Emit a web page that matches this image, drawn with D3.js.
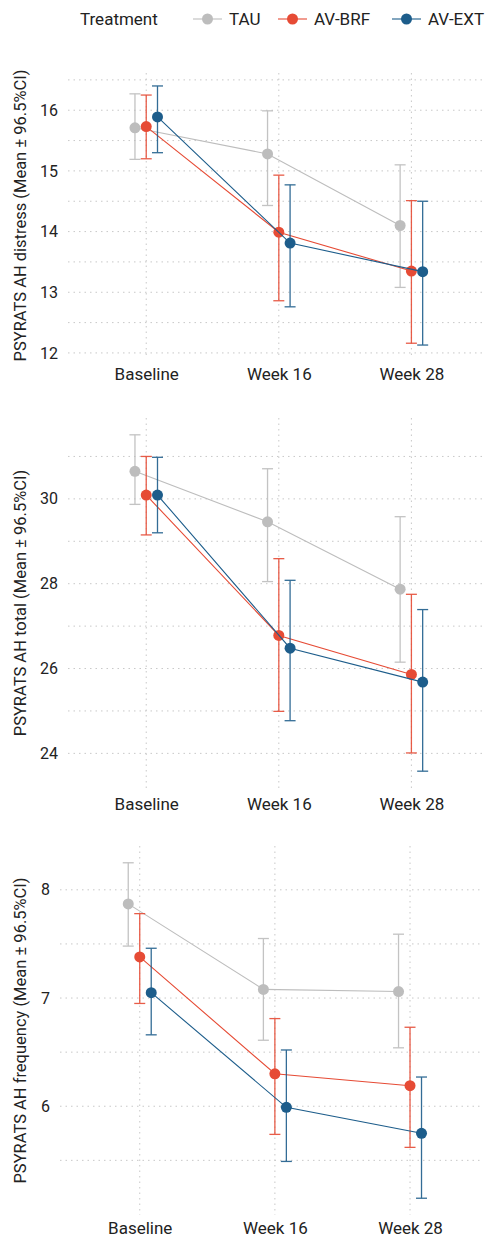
<!DOCTYPE html>
<html>
<head>
<meta charset="utf-8">
<script src="https://cdn.jsdelivr.net/npm/d3@7"></script>
<style>
  body { margin: 0; background: #fff; }
  svg { display: block; font-family: Roboto, "Noto Sans", sans-serif; }
</style>
</head>
<body>
<svg width="487" height="1239"></svg>
<script>
// Categories and groups.
var timepoints = ["Baseline", "Week 16", "Week 28"];
var groups = ["TAU", "AV-BRF", "AV-EXT"];
var colors = ["#bdbdbd", "#e64b35", "#1d5d8b"];

// Rows: TAU, AV-BRF, AV-EXT. Columns: Baseline, Week 16, Week 28.
var distressMean = [[15.71, 15.28, 14.10], [15.73, 13.99, 13.35], [15.89, 13.81, 13.34]];
var distressLow  = [[15.19, 14.43, 13.08], [15.20, 12.86, 12.16], [15.30, 12.76, 12.13]];
var distressHigh = [[16.27, 15.99, 15.10], [16.25, 14.93, 14.51], [16.40, 14.77, 14.50]];

var totalMean = [[30.65, 29.46, 27.87], [30.09, 26.78, 25.86], [30.09, 26.48, 25.68]];
var totalLow  = [[29.87, 28.05, 26.15], [29.15, 24.99, 24.01], [29.20, 24.77, 23.58]];
var totalHigh = [[31.51, 30.71, 29.58], [31.00, 28.59, 27.75], [30.98, 28.08, 27.39]];

var freqMean = [[7.87, 7.08, 7.06], [7.38, 6.30, 6.19], [7.05, 5.99, 5.75]];
var freqLow  = [[7.48, 6.61, 6.54], [6.95, 5.74, 5.62], [6.66, 5.49, 5.15]];
var freqHigh = [[8.25, 7.55, 7.59], [7.78, 6.81, 6.73], [7.46, 6.52, 6.27]];

// Tick labels and gridlines per panel.
var distressTicks = [12, 13, 14, 15, 16];
var distressMinor = [12.5, 13.5, 14.5, 15.5, 16.5];
var totalTicks = [24, 26, 28, 30];
var totalMinor = [25, 27, 29, 31];
var freqTicks = [6, 7, 8];
var freqMinor = [5.5, 6.5, 7.5];

var panels = [
  { title: "PSYRATS AH distress (Mean \u00b1 96.5%CI)", mean: distressMean, low: distressLow, high: distressHigh,
    ticks: distressTicks, minor: distressMinor, top: 73, bottom: 358, left: 68, labelGap: 10 },
  { title: "PSYRATS AH total (Mean \u00b1 96.5%CI)", mean: totalMean, low: totalLow, high: totalHigh,
    ticks: totalTicks, minor: totalMinor, top: 418, bottom: 788, left: 68, labelGap: 10 },
  { title: "PSYRATS AH frequency (Mean \u00b1 96.5%CI)", mean: freqMean, low: freqLow, high: freqHigh,
    ticks: freqTicks, minor: freqMinor, top: 846, bottom: 1215, left: 60, labelGap: 7 }
];

var svg = d3.select("svg");
var right = 483;
var dodge = [-0.085, 0, 0.085];
var gridColor = "#c8c8c8";

panels.forEach(function(p) {
  var g = svg.append("g");

  // y domain from the data with a 5% expansion, as ggplot does.
  var lo = d3.min(p.low, function(r) { return d3.min(r); });
  var hi = d3.max(p.high, function(r) { return d3.max(r); });
  var pad = (hi - lo) * 0.05;
  var y = d3.scaleLinear().domain([lo - pad, hi + pad]).range([p.bottom, p.top]);
  var x = d3.scaleLinear().domain([-0.59, 2.54]).range([p.left, right]);

  // Horizontal gridlines.
  g.selectAll("line.hgrid")
    .data(p.ticks.concat(p.minor))
    .enter()
    .append("line")
    .attr("x1", p.left).attr("x2", right)
    .attr("y1", function(d) { return y(d); })
    .attr("y2", function(d) { return y(d); })
    .attr("stroke", gridColor)
    .attr("stroke-width", 1)
    .attr("stroke-dasharray", "1.5,4");

  // Vertical gridlines.
  g.selectAll("line.vgrid")
    .data(timepoints)
    .enter()
    .append("line")
    .attr("x1", function(d, i) { return x(i); })
    .attr("x2", function(d, i) { return x(i); })
    .attr("y1", p.top).attr("y2", p.bottom)
    .attr("stroke", gridColor)
    .attr("stroke-width", 1)
    .attr("stroke-dasharray", "1.5,4");

  // Y axis tick labels.
  var yAxis = d3.axisLeft(y).tickValues(p.ticks).tickSize(0).tickPadding(0).tickFormat(d3.format("d"));
  var ya = g.append("g").attr("transform", "translate(" + (p.left - 10) + ",0)").call(yAxis);
  ya.select(".domain").remove();
  ya.selectAll("text").attr("font-size", 16).attr("fill", "#222").attr("font-family", "Roboto");

  // X axis labels.
  var xAxis = d3.axisBottom(x).tickValues([0, 1, 2]).tickSize(0).tickPadding(0)
    .tickFormat(function(d) { return timepoints[d]; });
  var xa = g.append("g").attr("transform", "translate(0," + (p.bottom + p.labelGap) + ")").call(xAxis);
  xa.select(".domain").remove();
  xa.selectAll("text").attr("font-size", 17).attr("fill", "#222").attr("font-family", "Roboto");

  // Y axis title.
  g.append("text")
    .attr("transform", "translate(26," + ((p.top + p.bottom) / 2) + ") rotate(-90)")
    .attr("text-anchor", "middle")
    .attr("font-size", 16.5)
    .attr("fill", "#222")
    .text(p.title);

  // Lines, error bars, points for each group.
  groups.forEach(function(name, gi) {
    var px = function(i) { return x(i + dodge[gi]); };
    var line = d3.line()
      .x(function(d, i) { return px(i); })
      .y(function(d) { return y(d); });

    g.append("path")
      .datum(p.mean[gi])
      .attr("d", line)
      .attr("fill", "none")
      .attr("stroke", colors[gi])
      .attr("stroke-width", 1.1);

    var eb = g.append("g").attr("stroke", colors[gi]).attr("stroke-width", 1.3).attr("opacity", 0.9);
    p.mean[gi].forEach(function(m, i) {
      var cx = px(i);
      eb.append("line").attr("x1", cx).attr("x2", cx)
        .attr("y1", y(p.low[gi][i])).attr("y2", y(p.high[gi][i]));
      eb.append("line").attr("x1", cx - 5.5).attr("x2", cx + 5.5)
        .attr("y1", y(p.low[gi][i])).attr("y2", y(p.low[gi][i]));
      eb.append("line").attr("x1", cx - 5.5).attr("x2", cx + 5.5)
        .attr("y1", y(p.high[gi][i])).attr("y2", y(p.high[gi][i]));
    });

    g.selectAll("circle.g" + gi)
      .data(p.mean[gi])
      .enter()
      .append("circle")
      .attr("cx", function(d, i) { return px(i); })
      .attr("cy", function(d) { return y(d); })
      .attr("r", 5.5)
      .attr("fill", colors[gi]);
  });
});

// Legend.
var legend = svg.append("g").attr("transform", "translate(0,19)");
legend.append("text")
  .attr("x", 80).attr("dy", "0.35em")
  .attr("font-size", 17).attr("fill", "#222")
  .text("Treatment");

var legendX = [193, 278, 392];
groups.forEach(function(name, gi) {
  var item = legend.append("g").attr("transform", "translate(" + legendX[gi] + ",0)");
  item.append("line").attr("x1", 0).attr("x2", 29).attr("stroke", colors[gi]).attr("stroke-width", 1.1);
  item.append("circle").attr("cx", 14.5).attr("r", 5.5).attr("fill", colors[gi]);
  item.append("text").attr("x", 36).attr("dy", "0.35em")
    .attr("font-size", 17).attr("fill", "#222").text(name);
});
</script>
</body>
</html>
